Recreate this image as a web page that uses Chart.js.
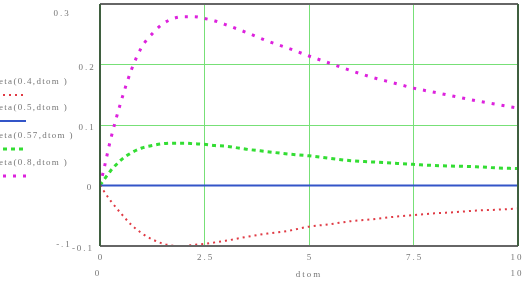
<!DOCTYPE html>
<html>
<head>
<meta charset="utf-8">
<script src="https://cdn.jsdelivr.net/npm/chart.js@4.4.1/dist/chart.umd.min.js"></script>
<style>
  html, body { margin: 0; padding: 0; background: #fff; }
  #wrap { width: 526px; height: 281px; }
</style>
</head>
<body>
<div id="wrap"><canvas id="etaChart" width="526" height="281"></canvas></div>
<script>
// values
const dtom = [0, 0.1, 0.25, 0.5, 0.75, 1, 1.25, 1.5, 1.75, 2, 2.25, 2.5, 2.75, 3, 3.5, 4, 4.5, 5, 5.5, 6, 6.5, 7, 7.5, 8, 8.5, 9, 9.5, 10];
const eta04 = [0, -0.01, -0.025, -0.046, -0.065, -0.079, -0.089, -0.096, -0.0995, -0.1, -0.098, -0.0965, -0.094, -0.0915, -0.085, -0.0795, -0.075, -0.068, -0.064, -0.059, -0.056, -0.052, -0.049, -0.046, -0.044, -0.0415, -0.04, -0.038];
const eta05 = [0, 0, 0, 0, 0, 0, 0, 0, 0, 0, 0, 0, 0, 0, 0, 0, 0, 0, 0, 0, 0, 0, 0, 0, 0, 0, 0, 0];
const eta057 = [0, 0.01, 0.024, 0.042, 0.054, 0.062, 0.066, 0.069, 0.07, 0.07, 0.069, 0.068, 0.066, 0.065, 0.06, 0.056, 0.052, 0.049, 0.045, 0.041, 0.039, 0.037, 0.035, 0.033, 0.032, 0.031, 0.029, 0.028];
const eta08 = [0, 0.029, 0.075, 0.138, 0.191, 0.229, 0.251, 0.267, 0.276, 0.279, 0.279, 0.276, 0.272, 0.266, 0.253, 0.239, 0.227, 0.214, 0.202, 0.19, 0.179, 0.17, 0.161, 0.154, 0.147, 0.14, 0.134, 0.128];

const legendLabels = ['eta(0.4,dtom )', 'eta(0.5,dtom )', 'eta(0.57,dtom )', 'eta(0.8,dtom )'];
const xTicks = ['0', '2.5', '5', '7.5', '10'];
const yTicks = ['0.3', '0.2', '0.1', '0'];

function pts(ys) {
    return dtom.map((x, i) => ({ x: x, y: ys[i] }));
}

const labelFont = '9px "Liberation Serif"';
const labelColor = '#777';

function spacedText(ctx, text, x, y, align, spacing) {
    ctx.save();
    ctx.font = labelFont;
    ctx.fillStyle = labelColor;
    ctx.letterSpacing = spacing || '2px';
    ctx.textAlign = align || 'center';
    ctx.textBaseline = 'middle';
    ctx.fillText(text, x, y);
    ctx.restore();
}

// legend on the left, axis labels and the frame
const mathcadLook = {
    id: 'mathcadLook',
    afterDatasetsDraw(chart) {
        const ctx = chart.ctx;
        const a = chart.chartArea;
        const xs = chart.scales.x;
        const ys = chart.scales.y;

        // frame
        ctx.save();
        ctx.lineWidth = 2;
        ctx.strokeStyle = '#666';
        ctx.beginPath();
        ctx.moveTo(a.left, a.top); ctx.lineTo(a.right, a.top);
        ctx.moveTo(a.left, a.bottom); ctx.lineTo(a.right, a.bottom);
        ctx.stroke();
        ctx.strokeStyle = '#3f5f3f';
        ctx.beginPath();
        ctx.moveTo(a.left, a.top); ctx.lineTo(a.left, a.bottom);
        ctx.moveTo(a.right, a.top); ctx.lineTo(a.right, a.bottom);
        ctx.stroke();
        ctx.restore();

        // y labels
        spacedText(ctx, yTicks[0], 62, ys.getPixelForValue(0.3) + 10);
        spacedText(ctx, yTicks[1], 87, ys.getPixelForValue(0.2) + 3);
        spacedText(ctx, yTicks[2], 87, ys.getPixelForValue(0.1) + 3);
        spacedText(ctx, yTicks[3], 90, ys.getPixelForValue(0) + 2);
        spacedText(ctx, '-.1', 64, ys.getPixelForValue(-0.1) - 1);
        spacedText(ctx, '-0.1', 83, ys.getPixelForValue(-0.1) + 3);

        // x labels
        const xv = [0, 2.5, 5, 7.5, 10];
        xv.forEach((v, i) => {
            let px = xs.getPixelForValue(v);
            if (i === xv.length - 1) px -= 2;
            spacedText(ctx, xTicks[i], px + 1, a.bottom + 12);
        });
        spacedText(ctx, '0', xs.getPixelForValue(0) - 2, a.bottom + 28);
        spacedText(ctx, 'dtom', xs.getPixelForValue(5), a.bottom + 29);
        spacedText(ctx, '10', xs.getPixelForValue(10) - 1, a.bottom + 28);

        // legend
        const rows = [82, 108, 136, 163];
        chart.data.datasets.forEach((ds, i) => {
            spacedText(ctx, legendLabels[i], -1, rows[i], 'left', '1.3px');
            const sy = rows[i] + 13;
            ctx.save();
            ctx.strokeStyle = ds.borderColor;
            ctx.lineWidth = ds.borderWidth;
            ctx.setLineDash(ds.borderDash || []);
            ctx.beginPath();
            ctx.moveTo(i === 1 ? 0 : 3, sy);
            ctx.lineTo(i === 3 ? 30 : 26, sy);
            ctx.stroke();
            ctx.restore();
        });
    }
};

const ctx = document.getElementById('etaChart').getContext('2d');
const chart = new Chart(ctx, {
    type: 'line',
    data: {
        datasets: [
            {
                label: legendLabels[0],
                data: pts(eta04),
                borderColor: '#e03a44',
                borderWidth: 2,
                borderDash: [2, 4],
                pointRadius: 0,
                cubicInterpolationMode: 'monotone'
            },
            {
                label: legendLabels[1],
                data: pts(eta05),
                borderColor: '#3355c8',
                borderWidth: 2,
                pointRadius: 0
            },
            {
                label: legendLabels[2],
                data: pts(eta057),
                borderColor: '#33dd33',
                borderWidth: 3,
                borderDash: [4, 4],
                pointRadius: 0,
                cubicInterpolationMode: 'monotone'
            },
            {
                label: legendLabels[3],
                data: pts(eta08),
                borderColor: '#dd22dd',
                borderWidth: 3,
                borderDash: [3, 7],
                pointRadius: 0,
                cubicInterpolationMode: 'monotone'
            }
        ]
    },
    options: {
        responsive: false,
        animation: false,
        layout: { padding: { left: 100, right: 8, top: 4, bottom: 35 } },
        plugins: { legend: { display: false }, tooltip: { enabled: false } },
        scales: {
            x: {
                type: 'linear',
                min: 0,
                max: 10,
                ticks: { display: false, stepSize: 2.5 },
                grid: { color: '#77e077', lineWidth: 1, drawTicks: false },
                border: { display: false }
            },
            y: {
                min: -0.1,
                max: 0.3,
                ticks: { display: false, stepSize: 0.1 },
                grid: { color: '#77e077', lineWidth: 1, drawTicks: false },
                border: { display: false }
            }
        }
    },
    plugins: [mathcadLook]
});
</script>
</body>
</html>
